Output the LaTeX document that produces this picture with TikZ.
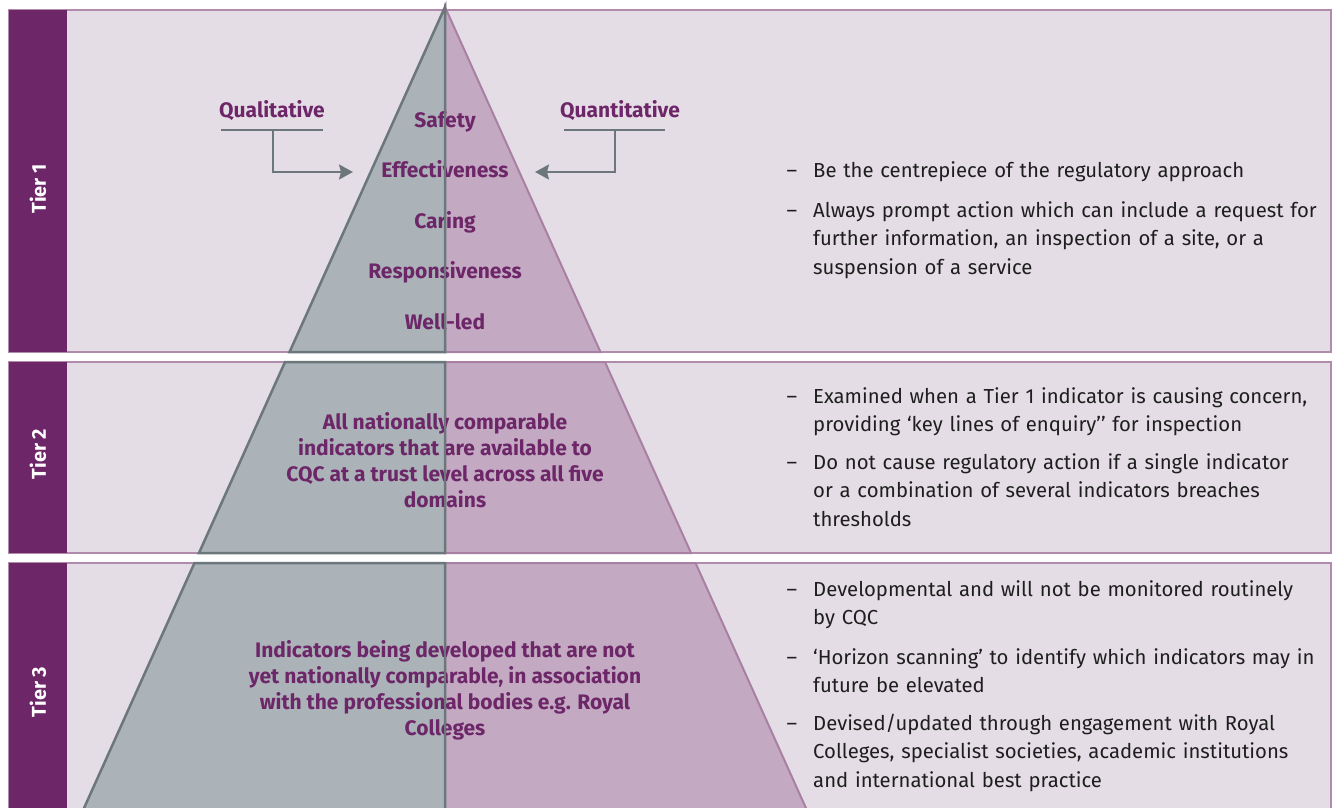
\documentclass[tikz,border=0pt]{standalone}
\usepackage{fontspec}
\setmainfont{Fira Sans}
\usetikzlibrary{arrows.meta}

\begin{document}
\begin{tikzpicture}[x=1pt,y=-1pt]
  % Local definitions
  \def\apex{445}
  \def\slope{0.4506}

  % Colors
  \definecolor{tiercolor}{RGB}{109,38,104}
  \definecolor{bandcolor}{RGB}{229,221,230}
  \definecolor{bandedge}{RGB}{176,139,171}
  \definecolor{greyside}{RGB}{171,179,185}
  \definecolor{greyedge}{RGB}{107,119,123}
  \definecolor{mauveside}{RGB}{195,170,194}
  \definecolor{mauveedge}{RGB}{168,128,163}
  \definecolor{bodytext}{RGB}{30,30,30}

  % Styles
  \tikzstyle{tier band}=[fill=bandcolor,draw=bandedge,line width=2.5pt]
  \tikzstyle{tier tab}=[fill=tiercolor]
  \tikzstyle{tier label}=[rotate=90,text=white,font=\bfseries\fontsize{20}{24}\selectfont]
  \tikzstyle{left side}=[fill=greyside,draw=greyedge,line width=2.5pt]
  \tikzstyle{right side}=[fill=mauveside,draw=mauveedge,line width=2pt]
  \tikzstyle{domain label}=[text=tiercolor,inner sep=0pt,text height=15pt,text depth=4.5pt,
    font=\bfseries\fontsize{21}{26}\selectfont]
  \tikzstyle{tier text}=[text=tiercolor,align=center,font=\bfseries\fontsize{21}{26}\selectfont]
  \tikzstyle{point text}=[anchor=base west,inner sep=0pt,text width=540pt,align=left,
    text=bodytext,font=\fontsize{20.3}{28.5}\selectfont]
  \tikzstyle{under rule}=[draw=greyedge,line width=2pt]
  \tikzstyle{connector}=[under rule,-{Stealth[length=14pt,width=15pt,inset=2pt]}]

  \useasboundingbox (0,0) rectangle (1338,807);
  \clip (0,0) rectangle (1338,807);

  % The bands
  \foreach \top/\bot in {10/352, 362/553, 563/815} {
    \draw[tier band] (9,\top) rectangle (1331,\bot);
    \fill[tier tab] (9,\top) rectangle (67,\bot);
  }

  % The pyramid, cut by the bands
  \foreach \top/\bot in {7/352, 362/553, 563/815} {
    \draw[right side] (\apex,\top) -- ({\apex+\slope*(\top-7)},\top)
      -- ({\apex+\slope*(\bot-7)},\bot) -- (\apex,\bot) -- cycle;
    \draw[left side,line join=miter] (\apex,\top) -- ({\apex-\slope*(\top-7)},\top)
      -- ({\apex-\slope*(\bot-7)},\bot) -- (\apex,\bot) -- cycle;
  }

  % Tier tabs
  \node[tier label] (tier1) at (38,189) {Tier 1};
  \node[tier label] (tier2) at (38,454) {Tier 2};
  \node[tier label] (tier3) at (38,692) {Tier 3};

  % Five domains
  \foreach \lbl [count=\i] in {Safety, Effectiveness, Caring, Responsiveness, Well-led}
    \node[domain label] (domain\i) at (\apex,{122+50.5*(\i-1)}) {\lbl};

  % Qualitative and quantitative feeds
  \node[domain label] (qual) at (272,112) {Qualitative};
  \node[domain label] (quant) at (620,112) {Quantitative};
  \coordinate (qualfoot) at (273,130);
  \coordinate (qualtip) at (353,172);
  \coordinate (quantfoot) at (615,130);
  \coordinate (quanttip) at (535,172);
  \draw[under rule] (221,130) -- (323,130);
  \draw[under rule] (564,130) -- (665,130);
  \draw[connector] (qualfoot) |- (qualtip);
  \draw[connector] (quantfoot) |- (quanttip);

  % Lower tiers
  \node[tier text] (tier2text) at (\apex,460)
    {All nationally comparable\\ indicators that are available to\\
     CQC at a trust level across all five\\ domains};
  \node[tier text] (tier3text) at (\apex,690)
    {Indicators being developed that are not\\ yet nationally comparable, in association\\
     with the professional bodies e.g. Royal\\ Colleges};

  % Points on the right
  \foreach \name/\y/\txt in {
      t1a/177/{Be the centrepiece of the regulatory approach},
      t1b/217/{Always prompt action which can include a request for\\ further information, an inspection of a site, or a\\ suspension of a service},
      t2a/403/{Examined when a Tier 1 indicator is causing concern,\\ providing ‘key lines of enquiry’’ for inspection},
      t2b/469/{Do not cause regulatory action if a single indicator\\ or a combination of several indicators breaches\\ thresholds},
      t3a/596/{Developmental and will not be monitored routinely\\ by CQC},
      t3b/664/{‘Horizon scanning’ to identify which indicators may in\\ future be elevated},
      t3c/730/{Devised/updated through engagement with Royal\\ Colleges, specialist societies, academic institutions\\ and international best practice}}
    \node[point text] (\name) at (813,\y) {\llap{–\hspace{16pt}}\txt};

  % Centre line
  \foreach \top/\bot in {7/352, 362/553, 563/815}
    \draw[greyedge,line width=2.5pt] (\apex,\top) -- (\apex,\bot);
\end{tikzpicture}
\end{document}
